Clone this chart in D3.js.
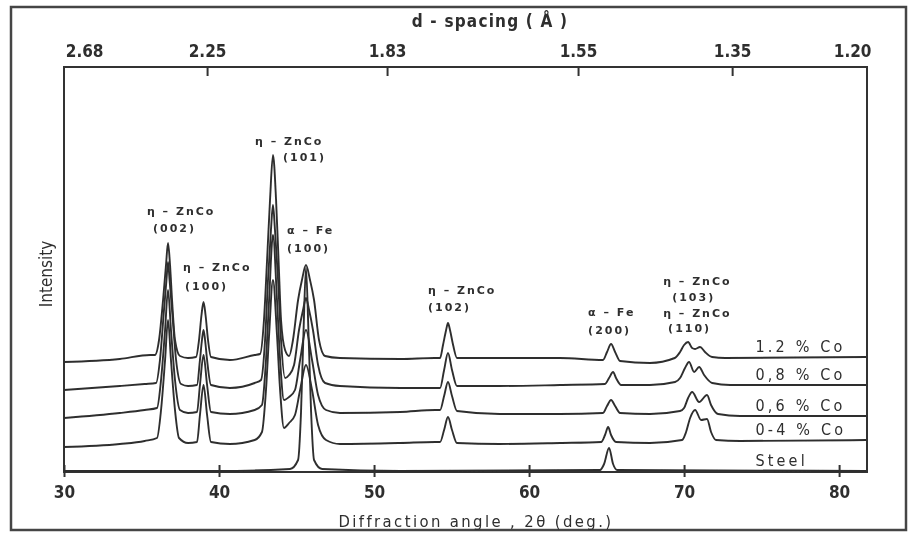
<!DOCTYPE html>
<html>
<head>
<meta charset="utf-8">
<script src="https://cdn.jsdelivr.net/npm/d3@7"></script>
<style>
  body { margin: 0; background: #fff; }
  svg text { fill: #2e2e2e; }
</style>
</head>
<body>
<div id="chart"></div>
<script>
// ------------------------------------------------------------
// XRD patterns of Zn-Co coatings on steel, stacked traces.
// Each trace is a list of [2theta (deg), intensity (arb.)] points
// ------------------------------------------------------------

const sampleNames = ['1.2 % Co', '0,8 % Co', '0,6 % Co', '0-4 % Co', 'Steel'];

const trace12 = [[30,110],[33.6,113],[35.55,117],[35.87,117],[36.13,132],[36.39,172],[36.58,207],[36.71,229],[36.84,207],[36.97,172],[37.16,132],[37.48,116],[38.0,114],[38.52,115],[38.71,132],[38.87,157],[39.0,170],[39.13,157],[39.29,132],[39.48,115],[40.7,112],[42.3,117],[42.65,118],[42.9,152],[43.1,212],[43.29,272],[43.48,317],[43.68,272],[43.84,212],[44.0,152],[44.26,122],[44.52,116],[44.77,132],[45.1,172],[45.35,192],[45.61,207],[45.87,192],[46.13,172],[46.45,132],[46.84,116],[47.8,114],[51.7,113],[53.9,114],[54.26,114],[54.45,127],[54.65,142],[54.77,149],[54.9,142],[55.1,127],[55.35,114],[58.1,114],[62.0,114],[64.77,112],[65.03,120],[65.29,128],[65.55,120],[65.87,111],[67.8,109],[69.4,114],[69.74,120],[70.0,127],[70.26,130],[70.52,124],[70.71,123],[71.03,125],[71.35,120],[71.81,115],[72.65,114],[81.74,115]];

const trace08 = [[30,82],[33.6,86],[35.2,88],[35.94,89],[36.19,112],[36.45,162],[36.61,192],[36.71,210],[36.81,192],[36.97,162],[37.23,112],[37.55,88],[38.0,86],[38.58,87],[38.77,112],[38.9,132],[39.0,142],[39.1,132],[39.23,112],[39.48,87],[40.7,84],[42.3,89],[42.71,92],[42.97,132],[43.16,192],[43.35,242],[43.48,267],[43.61,242],[43.81,192],[44.0,132],[44.26,94],[44.52,97],[44.84,107],[45.16,142],[45.42,162],[45.61,174],[45.81,162],[46.06,142],[46.39,107],[46.84,89],[47.8,86],[51.7,84],[53.94,84],[54.26,84],[54.52,102],[54.77,119],[55.03,102],[55.35,86],[58.1,86],[62.0,87],[64.9,88],[65.16,94],[65.42,100],[65.61,94],[65.94,87],[67.8,87],[69.42,90],[69.74,94],[70.06,104],[70.32,110],[70.65,100],[70.97,105],[71.29,97],[71.81,89],[72.97,87],[81.74,87]];

const trace06 = [[30,54],[33.6,59],[35.2,62],[36.0,64],[36.26,92],[36.52,142],[36.71,182],[36.9,142],[37.16,92],[37.48,62],[38.0,59],[38.58,60],[38.77,87],[39.0,117],[39.23,87],[39.48,60],[40.7,58],[42.3,62],[42.77,67],[43.03,112],[43.23,172],[43.48,237],[43.74,172],[43.94,112],[44.19,72],[44.52,75],[44.9,82],[45.23,112],[45.61,142],[46.0,112],[46.39,77],[46.9,62],[47.8,59],[51.7,60],[53.94,62],[54.26,62],[54.52,76],[54.77,90],[55.03,76],[55.35,61],[58.1,58],[62.0,58],[64.77,59],[65.03,66],[65.29,72],[65.55,66],[65.87,59],[67.8,58],[69.74,61],[70.0,64],[70.26,74],[70.52,80],[70.97,70],[71.48,77],[71.74,67],[72.19,58],[73.61,56],[81.74,56]];

const trace04 = [[30,25],[33.6,28],[35.2,31],[36.0,34],[36.26,62],[36.52,112],[36.71,152],[36.9,112],[37.16,62],[37.42,34],[38.0,29],[38.58,30],[38.77,57],[39.0,87],[39.23,57],[39.48,30],[40.7,28],[42.3,32],[42.77,40],[43.03,82],[43.23,137],[43.48,192],[43.74,137],[43.94,82],[44.19,44],[44.52,49],[44.9,57],[45.23,82],[45.61,107],[46.0,82],[46.39,47],[46.9,32],[47.8,28],[51.7,29],[53.94,30],[54.26,30],[54.52,42],[54.77,55],[55.03,42],[55.35,29],[58.1,28],[62.0,29],[64.65,30],[64.9,37],[65.1,45],[65.29,37],[65.61,30],[67.8,29],[69.87,32],[70.13,40],[70.39,54],[70.71,62],[71.1,52],[71.48,53],[71.74,40],[72.06,32],[73.61,31],[81.74,32]];

const traceSteel = [[30,1],[39.74,1],[44.58,3],[45.1,12],[45.29,60],[45.45,140],[45.61,204],[45.77,140],[45.94,60],[46.13,12],[46.65,3],[51.68,1],[64.58,2],[64.84,8],[65.16,24],[65.42,8],[65.68,2],[81.74,1]];

const traces = [trace12, trace08, trace06, trace04, traceSteel];

// bottom axis ticks (2theta) and top axis d-spacing labels with their 2theta spot
const angleTicks = [30, 40, 50, 60, 70, 80];
const dLabels = ['2.68', '2.25', '1.83', '1.55', '1.35', '1.20'];
const dAngles = [31.3, 39.23, 50.84, 63.16, 73.1, 80.84];

// peak annotations: text, 2theta where the line starts, intensity of its baseline
const peakText = ['η – ZnCo', '(002)', 'η – ZnCo', '(100)', 'η – ZnCo', '(101)', 'α – Fe', '(100)',
                  'η – ZnCo', '(102)', 'α – Fe', '(200)', 'η – ZnCo', '(103)', 'η – ZnCo', '(110)'];
const peakAngle = [35.35, 35.74, 37.68, 37.81, 42.32, 44.13, 44.39, 44.39,
                   53.48, 53.48, 63.81, 63.81, 68.65, 69.23, 68.65, 68.97];
const peakLevel = [257, 240, 201, 182, 327, 311, 238, 220,
                   178, 161, 156, 138, 187, 171, 155, 140];

(function(){
  const W = 909, H = 535;
  const svg = d3.select('#chart').append('svg').attr('width', W).attr('height', H);

  // slight blur so it reads like the scanned print
  svg.append('defs').append('filter').attr('id', 'soft')
    .append('feGaussianBlur').attr('stdDeviation', 0.55);

  const g = svg.append('g').attr('filter', 'url(#soft)');

  const x = d3.scaleLinear().domain([30, 81.8]).range([64, 867]);
  const y = d3.scaleLinear().domain([0, 405]).range([472, 67]);

  // outer border of the figure
  g.append('rect').attr('x', 11).attr('y', 7).attr('width', 895).attr('height', 523)
    .attr('fill', 'none').attr('stroke', '#444').attr('stroke-width', 2.5);

  // plot frame
  g.append('rect')
    .attr('x', x(30)).attr('y', y(405))
    .attr('width', x(81.8) - x(30)).attr('height', y(0) - y(405))
    .attr('fill', 'none').attr('stroke', '#333').attr('stroke-width', 2);

  const tickFont = sel => sel.selectAll('text')
    .attr('font-family', '"DejaVu Sans Condensed", "DejaVu Sans", sans-serif')
    .attr('font-weight', 'bold').attr('font-size', 17).attr('fill', '#2e2e2e');

  // bottom axis (2theta)
  const bottom = g.append('g').attr('transform', `translate(0,${y(0)})`)
    .call(d3.axisBottom(x).tickValues(angleTicks).tickSize(5).tickPadding(9).tickFormat(d3.format('d')))
    .call(tickFont);
  bottom.select('.domain').remove();
  bottom.selectAll('.tick line').attr('y1', -7).attr('stroke', '#333').attr('stroke-width', 2);

  // top axis (d-spacing)
  const top = g.append('g').attr('transform', `translate(0,${y(405)})`)
    .call(d3.axisTop(x).tickValues(dAngles).tickSize(-9).tickPadding(10).tickFormat((d, i) => dLabels[i]))
    .call(tickFont);
  top.select('.domain').remove();
  top.selectAll('.tick line').attr('stroke', '#333').attr('stroke-width', 2)
    .filter((d, i) => i === 0 || i === dAngles.length - 1).remove();

  // axis titles
  g.append('text').attr('x', 490).attr('y', 27).attr('text-anchor', 'middle')
    .attr('font-family', '"DejaVu Sans Condensed", sans-serif').attr('font-size', 17)
    .attr('font-weight', 'bold').attr('letter-spacing', 1.2).text('d - spacing ( Å )');
  g.append('text').attr('x', 476).attr('y', 527).attr('text-anchor', 'middle')
    .attr('font-family', '"DejaVu Sans Condensed", sans-serif').attr('font-size', 16.5)
    .attr('letter-spacing', 2.4).text('Diffraction angle , 2θ (deg.)');
  g.append('text').attr('transform', 'translate(52,274) rotate(-90)').attr('text-anchor', 'middle')
    .attr('font-family', '"DejaVu Sans Condensed", sans-serif').attr('font-size', 17)
    .text('Intensity');

  // traces
  const line = d3.line().x(d => x(d[0])).y(d => y(d[1])).curve(d3.curveMonotoneX);
  g.append('g').selectAll('path').data(traces).join('path')
    .attr('d', line).attr('fill', 'none')
    .attr('stroke', '#2f2f2f').attr('stroke-width', 1.9).attr('stroke-linejoin', 'round');

  // sample names sit just above the right end of each trace
  g.append('g').selectAll('text').data(traces).join('text')
    .attr('x', x(74.6)).attr('y', d => y(d[d.length - 1][1]) - 5)
    .attr('font-family', '"DejaVu Sans Condensed", sans-serif').attr('font-size', 16)
    .attr('letter-spacing', 3.2)
    .text((d, i) => sampleNames[i]);

  // peak labels
  g.append('g').selectAll('text').data(peakText).join('text')
    .attr('x', (d, i) => x(peakAngle[i])).attr('y', (d, i) => y(peakLevel[i]))
    .attr('font-family', '"DejaVu Sans", sans-serif').attr('font-weight', 'bold')
    .attr('font-size', 11).attr('letter-spacing', 2)
    .text(d => d);
})();
</script>
</body>
</html>
